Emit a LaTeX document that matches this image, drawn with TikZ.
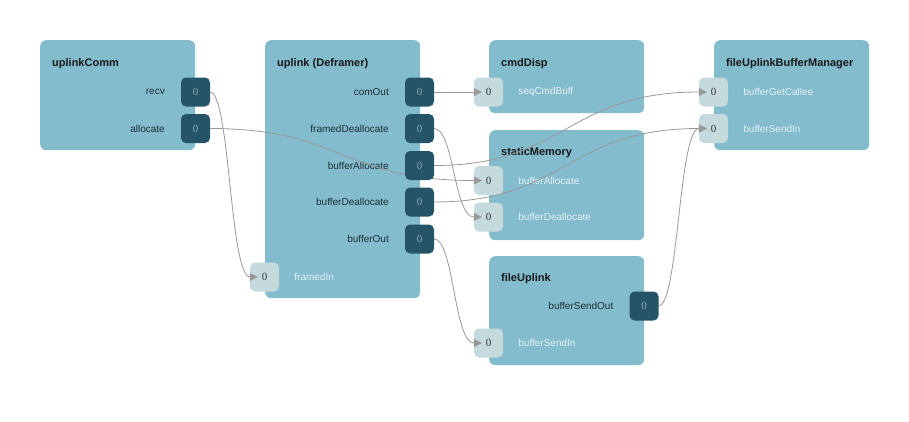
\documentclass[tikz,border=0pt]{standalone}
\usepackage{fontspec}
\setmainfont{Liberation Sans}
\newfontfamily\zerofont{Liberation Serif}
\usetikzlibrary{positioning,arrows.meta}

\definecolor{boxblue}{HTML}{82BCCD}
\definecolor{portdark}{HTML}{255468}
\definecolor{portlight}{HTML}{C5DADC}
\definecolor{zerogray}{HTML}{8FA8B2}
\definecolor{lbldark}{HTML}{1F2F35}
\definecolor{lbllight}{HTML}{E4F0F3}
\definecolor{linkgray}{HTML}{999999}

\tikzset{
  comp/.style={fill=boxblue, rounded corners=6pt, minimum width=155pt, inner sep=0pt, anchor=north west},
  port/.style={minimum width=29pt, minimum height=29pt, rounded corners=5pt, inner sep=0pt,
    font=\zerofont\fontsize{11}{11}\selectfont},
  outport/.style={port, fill=portdark, text=zerogray},
  inport/.style={port, fill=portlight, text=black!80},
  ttl/.style={anchor=west, inner sep=0pt, font=\bfseries\fontsize{11}{13}\selectfont, text=black!90},
  outlbl/.style={inner sep=0pt, font=\fontsize{10}{12}\selectfont, text=lbldark},
  inlbl/.style={inner sep=0pt, font=\fontsize{10}{12}\selectfont, text=lbllight},
  link/.style={draw=linkgray, line width=0.8pt, -{Triangle[length=8pt,width=8pt]}, shorten >=-8pt},
}

\begin{document}
\begin{tikzpicture}[x=1pt, y=-1pt]
  \useasboundingbox (0,0) rectangle (909,421);

  % components
  \node[comp, minimum height=110pt] (uplinkComm) at (40,40) {};
  \node[comp, minimum height=258pt] (uplink) at (265,40) {};
  \node[comp, minimum height=73pt] (cmdDisp) at (489,40) {};
  \node[comp, minimum height=110pt] (staticMemory) at (489,130) {};
  \node[comp, minimum height=109pt] (fileUplink) at (489,256) {};
  \node[comp, minimum height=110pt] (fileUplinkBufferManager) at (714,40) {};

  % titles
  \node[ttl] (uplinkCommT) at (52,63.5) {uplinkComm};
  \node[ttl] (uplinkT) at (277,63.5) {uplink (Deframer)};
  \node[ttl] (cmdDispT) at (501,63.5) {cmdDisp};
  \node[ttl] (staticMemoryT) at (501,152.5) {staticMemory};
  \node[ttl] (fileUplinkT) at (501,278.5) {fileUplink};
  \node[ttl] (fileUplinkBufferManagerT) at (726,63.5) {fileUplinkBufferManager};

  % input ports (under the links)
  \node[inport] (framedIn) at (264.5,277) {0};
  \node[inport] (seqCmdBuff) at (488.5,92) {0};
  \node[inport] (smBufferAllocate) at (488.5,180.5) {0};
  \node[inport] (smBufferDeallocate) at (488.5,217) {0};
  \node[inport] (fuBufferSendIn) at (488.5,343) {0};
  \node[inport] (fbmBufferGetCallee) at (713.5,92) {0};
  \node[inport] (fbmBufferSendIn) at (713.5,128.5) {0};

  \node[inlbl, right=15pt of framedIn] (framedInL) {framedIn};
  \node[inlbl, right=15pt of seqCmdBuff] (seqCmdBuffL) {seqCmdBuff};
  \node[inlbl, right=15pt of smBufferAllocate] (smBufferAllocateL) {bufferAllocate};
  \node[inlbl, right=15pt of smBufferDeallocate] (smBufferDeallocateL) {bufferDeallocate};
  \node[inlbl, right=15pt of fuBufferSendIn] (fuBufferSendInL) {bufferSendIn};
  \node[inlbl, right=15pt of fbmBufferGetCallee] (fbmBufferGetCalleeL) {bufferGetCallee};
  \node[inlbl, right=15pt of fbmBufferSendIn] (fbmBufferSendInL) {bufferSendIn};

  % output ports are placed first, links drawn, then the ports filled on top
  \coordinate (recv) at (195.5,92);
  \coordinate (allocate) at (195.5,128.5);
  \coordinate (comOut) at (419.5,92);
  \coordinate (framedDeallocate) at (419.5,128.5);
  \coordinate (bufferAllocate) at (419.5,165.5);
  \coordinate (bufferDeallocate) at (419.5,202);
  \coordinate (bufferOut) at (419.5,239);
  \coordinate (bufferSendOut) at (644,306);

  \node[outlbl, left=30.5pt of recv] (recvL) {recv};
  \node[outlbl, left=30.5pt of allocate] (allocateL) {allocate};
  \node[outlbl, left=30.5pt of comOut] (comOutL) {comOut};
  \node[outlbl, left=30.5pt of framedDeallocate] (framedDeallocateL) {framedDeallocate};
  \node[outlbl, left=30.5pt of bufferAllocate] (bufferAllocateL) {bufferAllocate};
  \node[outlbl, left=30.5pt of bufferDeallocate] (bufferDeallocateL) {bufferDeallocate};
  \node[outlbl, left=30.5pt of bufferOut] (bufferOutL) {bufferOut};
  \node[outlbl, left=30.5pt of bufferSendOut] (bufferSendOutL) {bufferSendOut};

  % connections
  \draw[link] ([xshift=14.5pt]recv) .. controls +(20,0) and +(-20,0) .. (framedIn.west);
  \draw[link] ([xshift=14.5pt]allocate) .. controls +(132,0) and +(-132,0) .. (smBufferAllocate.west);
  \draw[link] ([xshift=14.5pt]comOut) -- (seqCmdBuff.west);
  \draw[link] ([xshift=14.5pt]framedDeallocate) .. controls +(20,0) and +(-20,0) .. (smBufferDeallocate.west);
  \draw[link] ([xshift=14.5pt]bufferAllocate) .. controls +(132,0) and +(-132,0) .. (fbmBufferGetCallee.west);
  \draw[link] ([xshift=14.5pt]bufferDeallocate) .. controls +(132,0) and +(-132,0) .. (fbmBufferSendIn.west);
  \draw[link] ([xshift=14.5pt]bufferOut) .. controls +(20,0) and +(-20,0) .. (fuBufferSendIn.west);
  \draw[link] ([xshift=14.5pt]bufferSendOut) .. controls +(20,0) and +(-20,0) .. (fbmBufferSendIn.west);

  % output ports on top
  \foreach \p in {recv, allocate, comOut, framedDeallocate, bufferAllocate,
                  bufferDeallocate, bufferOut, bufferSendOut}
    \node[outport] (\p Box) at (\p) {0};
\end{tikzpicture}
\end{document}
